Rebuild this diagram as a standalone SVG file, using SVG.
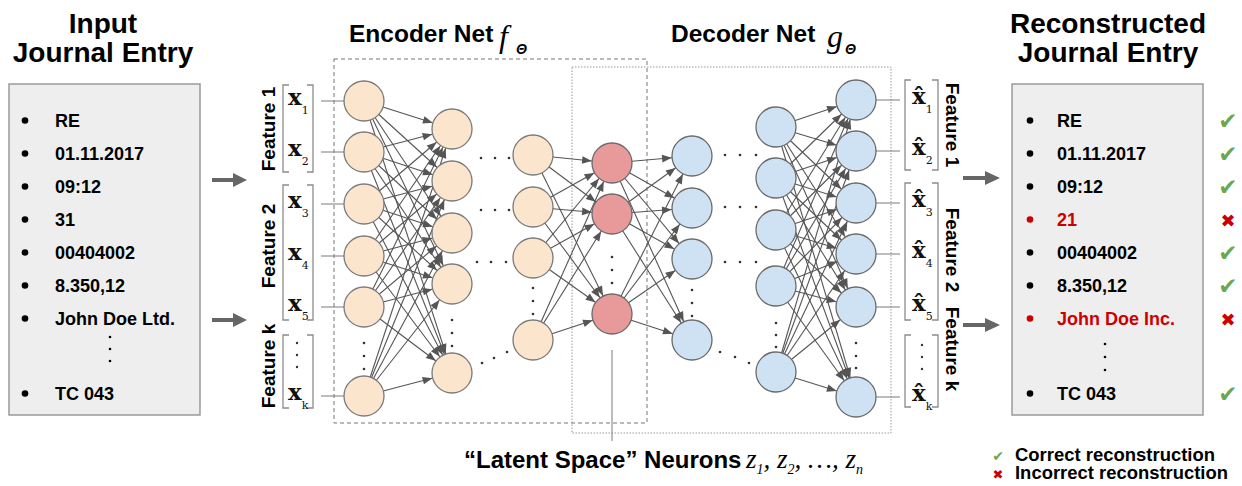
<svg xmlns="http://www.w3.org/2000/svg" width="1242" height="486" viewBox="0 0 1242 486">
  <defs>
    <style>
      .t{font-family:"Liberation Sans",Arial,sans-serif;font-weight:bold;fill:#000}
      .title{font-size:28px;text-anchor:middle}
      .head{font-size:24.5px}
      .item{font-size:18px}
      .feat{font-size:19px;text-anchor:middle}
      .red{fill:#cc0000}
      .m{font-family:"Liberation Serif","Times New Roman",serif;font-style:italic;font-weight:normal}
      .th{font-family:"Liberation Sans",Arial,sans-serif;font-style:italic;font-weight:bold;font-size:14px}
      .xv{font-family:"DejaVu Serif",serif;font-weight:bold;font-size:23px;fill:#111}
      .sub{font-size:11px;font-weight:normal}
      .panel{fill:#eeeeee;stroke:#9a9a9a;stroke-width:1.5}
      .enc{fill:#fce5cd;stroke:#7a7a7a;stroke-width:1.3}
      .lat{fill:#e89a9a;stroke:#6a6a6a;stroke-width:1.3}
      .dec{fill:#cfe2f3;stroke:#6a6a6a;stroke-width:1.3}
      .edges line{stroke:#555;stroke-width:1.1;marker-end:url(#ah)}
      .stubs line{stroke:#7a7a7a;stroke-width:1}
      .br{fill:none;stroke:#8c8c8c;stroke-width:1.3}
      .dot{fill:#333}
      .big{fill:#666}
      .ok{font-family:"DejaVu Sans",sans-serif;font-size:23px;fill:#6aa84f;text-anchor:middle}
      .bad{font-family:"DejaVu Sans",sans-serif;font-size:18px;fill:#cc0000;text-anchor:middle}
      .lg{font-size:14px}
    </style>
    <!-- arrowhead whose tip sits 20px (one neuron radius) before the line end -->
    <marker id="ah" markerUnits="userSpaceOnUse" markerWidth="1" markerHeight="1" refX="0" refY="0" orient="auto" overflow="visible">
      <path d="M-30,-3.8L-20.3,0L-30,3.8z" fill="#555"/>
    </marker>
  </defs>

  <rect width="1242" height="486" fill="#ffffff"/>

  <!-- input journal entry -->
  <g id="input-entry">
    <text class="t title" x="103" y="33">Input</text>
    <text class="t title" x="103" y="62">Journal Entry</text>
    <rect class="panel" x="9" y="84" width="191" height="331"/>
    <g class="t item">
      <text x="55" y="127">RE</text>
      <text x="55" y="160">01.11.2017</text>
      <text x="55" y="193">09:12</text>
      <text x="55" y="226">31</text>
      <text x="55" y="259">00404002</text>
      <text x="55" y="292">8.350,12</text>
      <text x="55" y="325">John Doe Ltd.</text>
      <text x="55" y="400">TC 043</text>
    </g>
    <g fill="#000">
      <circle cx="25" cy="120.5" r="3.3"/>
      <circle cx="25" cy="153.5" r="3.3"/>
      <circle cx="25" cy="186.5" r="3.3"/>
      <circle cx="25" cy="219.5" r="3.3"/>
      <circle cx="25" cy="252.5" r="3.3"/>
      <circle cx="25" cy="285.5" r="3.3"/>
      <circle cx="25" cy="318.5" r="3.3"/>
      <circle cx="25" cy="393.5" r="3.3"/>
      <circle cx="110" cy="337" r="1.3"/>
      <circle cx="110" cy="349" r="1.3"/>
      <circle cx="110" cy="361" r="1.3"/>
    </g>
  </g>

  <!-- reconstructed journal entry -->
  <g id="output-entry">
    <text class="t title" x="1108" y="33">Reconstructed</text>
    <text class="t title" x="1108" y="62">Journal Entry</text>
    <rect class="panel" x="1012" y="84" width="191" height="331"/>
    <g class="t item">
      <text x="1057" y="127">RE</text>
      <text x="1057" y="160">01.11.2017</text>
      <text x="1057" y="193">09:12</text>
      <text x="1057" y="226" class="red">21</text>
      <text x="1057" y="259">00404002</text>
      <text x="1057" y="292">8.350,12</text>
      <text x="1057" y="325" class="red">John Doe Inc.</text>
      <text x="1057" y="400">TC 043</text>
    </g>
    <g fill="#000">
      <circle cx="1030" cy="120.5" r="3.3"/>
      <circle cx="1030" cy="153.5" r="3.3"/>
      <circle cx="1030" cy="186.5" r="3.3"/>
      <circle cx="1030" cy="219.5" r="3.3" fill="#cc0000"/>
      <circle cx="1030" cy="252.5" r="3.3"/>
      <circle cx="1030" cy="285.5" r="3.3"/>
      <circle cx="1030" cy="318.5" r="3.3" fill="#cc0000"/>
      <circle cx="1030" cy="393.5" r="3.3"/>
      <circle cx="1105" cy="344" r="1.3"/>
      <circle cx="1105" cy="357" r="1.3"/>
      <circle cx="1105" cy="370" r="1.3"/>
    </g>
    <text class="ok" x="1228" y="129">✔</text>
    <text class="ok" x="1228" y="162">✔</text>
    <text class="ok" x="1228" y="195">✔</text>
    <text class="bad" x="1228" y="227">✖</text>
    <text class="ok" x="1228" y="261">✔</text>
    <text class="ok" x="1228" y="294">✔</text>
    <text class="bad" x="1228" y="326">✖</text>
    <text class="ok" x="1228" y="402">✔</text>
  </g>

  <!-- network titles -->
  <g id="encoder-title">
    <text class="t head" x="349" y="42">Encoder Net</text>
    <text class="m" x="499" y="47" font-size="32">f</text>
    <text class="th" x="516" y="54">Θ</text>
  </g>
  <g id="decoder-title">
    <text class="t head" x="671" y="42">Decoder Net</text>
    <text class="m" x="827" y="47" font-size="32">g</text>
    <text class="th" x="845" y="54">Θ</text>
  </g>

  <!-- encoder / decoder frames -->
  <g id="frames" fill="none">
    <rect x="334" y="59" width="313" height="364" stroke="#777" stroke-width="1" stroke-dasharray="4 3"/>
    <rect x="572" y="67" width="319" height="366" stroke="#999" stroke-width="1" stroke-dasharray="1.5 1.5"/>
  </g>

  <!-- connectors -->
  <g id="connectors">
    <g class="stubs">
      <line x1="321" y1="101" x2="344" y2="101"/>
      <line x1="321" y1="152" x2="344" y2="152"/>
      <line x1="321" y1="204" x2="344" y2="204"/>
      <line x1="321" y1="256" x2="344" y2="256"/>
      <line x1="321" y1="307" x2="344" y2="307"/>
      <line x1="321" y1="396" x2="344" y2="396"/>
      <line x1="876" y1="100" x2="900" y2="100"/>
      <line x1="876" y1="151" x2="900" y2="151"/>
      <line x1="876" y1="203" x2="900" y2="203"/>
      <line x1="876" y1="254" x2="900" y2="254"/>
      <line x1="876" y1="307" x2="900" y2="307"/>
      <line x1="876" y1="397" x2="900" y2="397"/>
      <line x1="612" y1="350" x2="612" y2="441" stroke="#555"/>
    </g>
    <g class="edges">
      <!-- input layer to hidden layer 1 -->
      <line x1="364" y1="101" x2="452" y2="129"/><line x1="364" y1="101" x2="452" y2="181"/><line x1="364" y1="101" x2="452" y2="233"/><line x1="364" y1="101" x2="452" y2="284"/><line x1="364" y1="101" x2="452" y2="373"/>
      <line x1="364" y1="152" x2="452" y2="129"/><line x1="364" y1="152" x2="452" y2="181"/><line x1="364" y1="152" x2="452" y2="233"/><line x1="364" y1="152" x2="452" y2="284"/><line x1="364" y1="152" x2="452" y2="373"/>
      <line x1="364" y1="204" x2="452" y2="129"/><line x1="364" y1="204" x2="452" y2="181"/><line x1="364" y1="204" x2="452" y2="233"/><line x1="364" y1="204" x2="452" y2="284"/><line x1="364" y1="204" x2="452" y2="373"/>
      <line x1="364" y1="256" x2="452" y2="129"/><line x1="364" y1="256" x2="452" y2="181"/><line x1="364" y1="256" x2="452" y2="233"/><line x1="364" y1="256" x2="452" y2="284"/><line x1="364" y1="256" x2="452" y2="373"/>
      <line x1="364" y1="307" x2="452" y2="129"/><line x1="364" y1="307" x2="452" y2="181"/><line x1="364" y1="307" x2="452" y2="233"/><line x1="364" y1="307" x2="452" y2="284"/><line x1="364" y1="307" x2="452" y2="373"/>
      <line x1="364" y1="396" x2="452" y2="129"/><line x1="364" y1="396" x2="452" y2="181"/><line x1="364" y1="396" x2="452" y2="233"/><line x1="364" y1="396" x2="452" y2="284"/><line x1="364" y1="396" x2="452" y2="373"/>
      <!-- last encoder layer to latent layer -->
      <line x1="533" y1="155" x2="612" y2="163"/><line x1="533" y1="155" x2="612" y2="214"/><line x1="533" y1="155" x2="612" y2="314"/>
      <line x1="533" y1="207" x2="612" y2="163"/><line x1="533" y1="207" x2="612" y2="214"/><line x1="533" y1="207" x2="612" y2="314"/>
      <line x1="533" y1="258" x2="612" y2="163"/><line x1="533" y1="258" x2="612" y2="214"/><line x1="533" y1="258" x2="612" y2="314"/>
      <line x1="533" y1="340" x2="612" y2="163"/><line x1="533" y1="340" x2="612" y2="214"/><line x1="533" y1="340" x2="612" y2="314"/>
      <!-- latent layer to first decoder layer -->
      <line x1="612" y1="163" x2="692" y2="156"/><line x1="612" y1="163" x2="692" y2="208"/><line x1="612" y1="163" x2="692" y2="259"/><line x1="612" y1="163" x2="692" y2="340"/>
      <line x1="612" y1="214" x2="692" y2="156"/><line x1="612" y1="214" x2="692" y2="208"/><line x1="612" y1="214" x2="692" y2="259"/><line x1="612" y1="214" x2="692" y2="340"/>
      <line x1="612" y1="314" x2="692" y2="156"/><line x1="612" y1="314" x2="692" y2="208"/><line x1="612" y1="314" x2="692" y2="259"/><line x1="612" y1="314" x2="692" y2="340"/>
      <!-- last decoder layer to output layer -->
      <line x1="776" y1="127" x2="856" y2="100"/><line x1="776" y1="127" x2="856" y2="151"/><line x1="776" y1="127" x2="856" y2="203"/><line x1="776" y1="127" x2="856" y2="254"/><line x1="776" y1="127" x2="856" y2="307"/><line x1="776" y1="127" x2="856" y2="397"/>
      <line x1="776" y1="178" x2="856" y2="100"/><line x1="776" y1="178" x2="856" y2="151"/><line x1="776" y1="178" x2="856" y2="203"/><line x1="776" y1="178" x2="856" y2="254"/><line x1="776" y1="178" x2="856" y2="307"/><line x1="776" y1="178" x2="856" y2="397"/>
      <line x1="776" y1="230" x2="856" y2="100"/><line x1="776" y1="230" x2="856" y2="151"/><line x1="776" y1="230" x2="856" y2="203"/><line x1="776" y1="230" x2="856" y2="254"/><line x1="776" y1="230" x2="856" y2="307"/><line x1="776" y1="230" x2="856" y2="397"/>
      <line x1="776" y1="286" x2="856" y2="100"/><line x1="776" y1="286" x2="856" y2="151"/><line x1="776" y1="286" x2="856" y2="203"/><line x1="776" y1="286" x2="856" y2="254"/><line x1="776" y1="286" x2="856" y2="307"/><line x1="776" y1="286" x2="856" y2="397"/>
      <line x1="776" y1="372" x2="856" y2="100"/><line x1="776" y1="372" x2="856" y2="151"/><line x1="776" y1="372" x2="856" y2="203"/><line x1="776" y1="372" x2="856" y2="254"/><line x1="776" y1="372" x2="856" y2="307"/><line x1="776" y1="372" x2="856" y2="397"/>
    </g>
    <!-- flow arrows into and out of the network -->
    <polygon class="big" points="212,178 233,178 233,173 247,180 233,187 233,182 212,182"/>
    <polygon class="big" points="212,318 233,318 233,313 247,320 233,327 233,322 212,322"/>
    <polygon class="big" points="963,176 985,176 985,171 1000,178 985,185 985,180 963,180"/>
    <polygon class="big" points="963,323 985,323 985,318 1000,325 985,332 985,327 963,327"/>
  </g>

  <!-- encoder neurons -->
  <g id="enc-l1-n1"><circle class="enc" cx="364" cy="101" r="20"/></g>
  <g id="enc-l1-n2"><circle class="enc" cx="364" cy="152" r="20"/></g>
  <g id="enc-l1-n3"><circle class="enc" cx="364" cy="204" r="20"/></g>
  <g id="enc-l1-n4"><circle class="enc" cx="364" cy="256" r="20"/></g>
  <g id="enc-l1-n5"><circle class="enc" cx="364" cy="307" r="20"/></g>
  <g id="enc-l1-nk"><circle class="enc" cx="364" cy="396" r="20"/></g>
  <g id="enc-l2-n1"><circle class="enc" cx="452" cy="129" r="20"/></g>
  <g id="enc-l2-n2"><circle class="enc" cx="452" cy="181" r="20"/></g>
  <g id="enc-l2-n3"><circle class="enc" cx="452" cy="233" r="20"/></g>
  <g id="enc-l2-n4"><circle class="enc" cx="452" cy="284" r="20"/></g>
  <g id="enc-l2-nk"><circle class="enc" cx="452" cy="373" r="20"/></g>
  <g id="enc-l3-n1"><circle class="enc" cx="533" cy="155" r="20"/></g>
  <g id="enc-l3-n2"><circle class="enc" cx="533" cy="207" r="20"/></g>
  <g id="enc-l3-n3"><circle class="enc" cx="533" cy="258" r="20"/></g>
  <g id="enc-l3-nk"><circle class="enc" cx="533" cy="340" r="20"/></g>

  <!-- latent neurons -->
  <g id="latent-z1"><circle class="lat" cx="612" cy="163" r="20"/></g>
  <g id="latent-z2"><circle class="lat" cx="612" cy="214" r="20"/></g>
  <g id="latent-zn"><circle class="lat" cx="612" cy="314" r="20"/></g>

  <!-- decoder neurons -->
  <g id="dec-l1-n1"><circle class="dec" cx="692" cy="156" r="20"/></g>
  <g id="dec-l1-n2"><circle class="dec" cx="692" cy="208" r="20"/></g>
  <g id="dec-l1-n3"><circle class="dec" cx="692" cy="259" r="20"/></g>
  <g id="dec-l1-nk"><circle class="dec" cx="692" cy="340" r="20"/></g>
  <g id="dec-l2-n1"><circle class="dec" cx="776" cy="127" r="20"/></g>
  <g id="dec-l2-n2"><circle class="dec" cx="776" cy="178" r="20"/></g>
  <g id="dec-l2-n3"><circle class="dec" cx="776" cy="230" r="20"/></g>
  <g id="dec-l2-n4"><circle class="dec" cx="776" cy="286" r="20"/></g>
  <g id="dec-l2-nk"><circle class="dec" cx="776" cy="372" r="20"/></g>
  <g id="dec-l3-n1"><circle class="dec" cx="856" cy="100" r="20"/></g>
  <g id="dec-l3-n2"><circle class="dec" cx="856" cy="151" r="20"/></g>
  <g id="dec-l3-n3"><circle class="dec" cx="856" cy="203" r="20"/></g>
  <g id="dec-l3-n4"><circle class="dec" cx="856" cy="254" r="20"/></g>
  <g id="dec-l3-n5"><circle class="dec" cx="856" cy="307" r="20"/></g>
  <g id="dec-l3-nk"><circle class="dec" cx="856" cy="397" r="20"/></g>

  <!-- ellipsis dots between and within layers -->
  <g id="ellipses" class="dot">
    <circle cx="364" cy="343" r="1.3"/><circle cx="364" cy="356" r="1.3"/><circle cx="364" cy="369" r="1.3"/>
    <circle cx="452" cy="320" r="1.3"/><circle cx="452" cy="333" r="1.3"/><circle cx="452" cy="346" r="1.3"/>
    <circle cx="533" cy="288" r="1.3"/><circle cx="533" cy="301" r="1.3"/><circle cx="533" cy="314" r="1.3"/>
    <circle cx="612" cy="257" r="1.3"/><circle cx="612" cy="270" r="1.3"/><circle cx="612" cy="283" r="1.3"/>
    <circle cx="692" cy="290" r="1.3"/><circle cx="692" cy="303" r="1.3"/><circle cx="692" cy="316" r="1.3"/>
    <circle cx="776" cy="323" r="1.3"/><circle cx="776" cy="335" r="1.3"/><circle cx="776" cy="347" r="1.3"/>
    <circle cx="856" cy="343" r="1.3"/><circle cx="856" cy="356" r="1.3"/><circle cx="856" cy="368" r="1.3"/>
    <circle cx="481" cy="158" r="1.3"/><circle cx="495" cy="158" r="1.3"/><circle cx="509" cy="158" r="1.3"/>
    <circle cx="481" cy="210" r="1.3"/><circle cx="495" cy="210" r="1.3"/><circle cx="509" cy="210" r="1.3"/>
    <circle cx="477" cy="262" r="1.3"/><circle cx="491" cy="262" r="1.3"/><circle cx="506" cy="262" r="1.3"/>
    <circle cx="482" cy="363" r="1.3"/><circle cx="494" cy="358" r="1.3"/><circle cx="507" cy="352" r="1.3"/>
    <circle cx="725" cy="155" r="1.3"/><circle cx="740" cy="155" r="1.3"/><circle cx="756" cy="155" r="1.3"/>
    <circle cx="725" cy="207" r="1.3"/><circle cx="740" cy="207" r="1.3"/><circle cx="756" cy="207" r="1.3"/>
    <circle cx="725" cy="262" r="1.3"/><circle cx="740" cy="262" r="1.3"/><circle cx="756" cy="262" r="1.3"/>
    <circle cx="720" cy="352" r="1.3"/><circle cx="735" cy="357" r="1.3"/><circle cx="749" cy="363" r="1.3"/>
  </g>

  <!-- input feature vector -->
  <g id="input-features">
    <path class="br" d="M289,85H283V172H289M307,85H313V172H307"/>
    <path class="br" d="M289,185H283V320H289M307,185H313V320H307"/>
    <path class="br" d="M289,335H283V408H289M307,335H313V408H307"/>
    <text class="xv" x="288" y="105">x<tspan class="sub" dy="9">1</tspan></text>
    <text class="xv" x="288" y="156">x<tspan class="sub" dy="9">2</tspan></text>
    <text class="xv" x="288" y="208">x<tspan class="sub" dy="9">3</tspan></text>
    <text class="xv" x="288" y="260">x<tspan class="sub" dy="9">4</tspan></text>
    <text class="xv" x="288" y="311">x<tspan class="sub" dy="9">5</tspan></text>
    <text class="xv" x="288" y="400">x<tspan class="sub" dy="9">k</tspan></text>
    <g class="dot">
      <circle cx="297" cy="343" r="1.2"/><circle cx="297" cy="355" r="1.2"/><circle cx="297" cy="367" r="1.2"/>
    </g>
    <text class="t feat" transform="translate(275,129) rotate(-90)">Feature 1</text>
    <text class="t feat" transform="translate(275,246) rotate(-90)">Feature 2</text>
    <text class="t feat" transform="translate(275,366) rotate(-90)">Feature k</text>
  </g>

  <!-- reconstructed feature vector -->
  <g id="output-features">
    <path class="br" d="M911,80H905V170H911M932,80H938V170H932"/>
    <path class="br" d="M911,183H905V320H911M932,183H938V320H932"/>
    <path class="br" d="M911,335H905V407H911M932,335H938V407H932"/>
    <text class="xv" x="912" y="104">x̂<tspan class="sub" dy="9">1</tspan></text>
    <text class="xv" x="912" y="155">x̂<tspan class="sub" dy="9">2</tspan></text>
    <text class="xv" x="912" y="207">x̂<tspan class="sub" dy="9">3</tspan></text>
    <text class="xv" x="912" y="258">x̂<tspan class="sub" dy="9">4</tspan></text>
    <text class="xv" x="912" y="311">x̂<tspan class="sub" dy="9">5</tspan></text>
    <text class="xv" x="912" y="401">x̂<tspan class="sub" dy="9">k</tspan></text>
    <g class="dot">
      <circle cx="922" cy="345" r="1.2"/><circle cx="922" cy="357" r="1.2"/><circle cx="922" cy="369" r="1.2"/>
    </g>
    <text class="t feat" transform="translate(946,125) rotate(90)">Feature 1</text>
    <text class="t feat" transform="translate(946,250) rotate(90)">Feature 2</text>
    <text class="t feat" transform="translate(946,349) rotate(90)">Feature k</text>
  </g>

  <!-- latent space caption -->
  <g id="latent-caption">
    <text class="t" x="464" y="468" font-size="24">“Latent Space” Neurons</text>
    <text class="m" x="746" y="468" font-size="27">z<tspan font-size="14" dy="6">1</tspan><tspan dy="-6">, z</tspan><tspan font-size="14" dy="6">2</tspan><tspan dy="-6">, …, z</tspan><tspan font-size="14" dy="6">n</tspan></text>
  </g>

  <!-- legend -->
  <g id="legend">
    <text class="ok lg" x="998" y="461">✔</text>
    <text class="t" x="1015" y="461" font-size="18" textLength="200" lengthAdjust="spacingAndGlyphs">Correct reconstruction</text>
    <text class="bad lg" x="998" y="479" style="font-size:13px">✖</text>
    <text class="t" x="1015" y="479" font-size="18" textLength="213" lengthAdjust="spacingAndGlyphs">Incorrect reconstruction</text>
  </g>
</svg>
